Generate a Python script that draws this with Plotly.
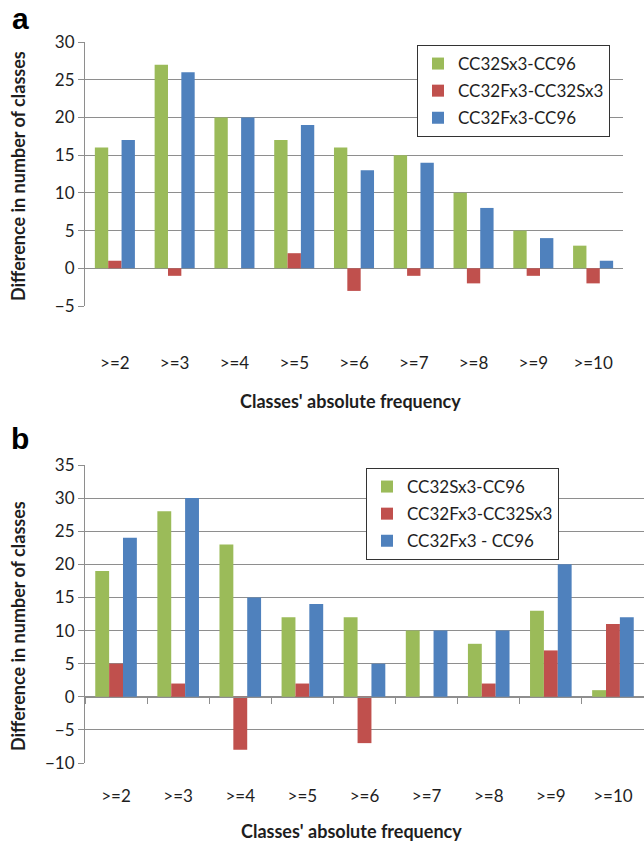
import plotly.graph_objects as go

categories = [">=2", ">=3", ">=4", ">=5", ">=6", ">=7", ">=8", ">=9", ">=10"]

# Panel a
a_names = ["CC32Sx3-CC96", "CC32Fx3-CC32Sx3", "CC32Fx3-CC96"]
a_s_96 = [16, 27, 20, 17, 16, 15, 10, 5, 3]
a_f_s = [1, -1, 0, 2, -3, -1, -2, -1, -2]
a_f_96 = [17, 26, 20, 19, 13, 14, 8, 4, 1]

# Panel b
b_names = ["CC32Sx3-CC96", "CC32Fx3-CC32Sx3", "CC32Fx3 - CC96"]
b_s_96 = [19, 28, 23, 12, 12, 10, 8, 13, 1]
b_f_s = [5, 2, -8, 2, -7, 0, 2, 7, 11]
b_f_96 = [24, 30, 15, 14, 5, 10, 10, 20, 12]

a_ticks = [-5, 0, 5, 10, 15, 20, 25, 30]
b_ticks = [-10, -5, 0, 5, 10, 15, 20, 25, 30, 35]

colors = ["#9BBB59", "#C0504D", "#4F81BD"]
FONT = "Lato"
GRID = "#8e8e8e"
TXT = "#1e1e1e"

W, H = 644, 844
ML = 85
PW = W - ML


def px(xp):
    return (xp - ML) / PW


def py(yp):
    return 1 - yp / H


fig = go.Figure()

for name, vals, c in zip(a_names, [a_s_96, a_f_s, a_f_96], colors):
    fig.add_trace(go.Bar(x=categories, y=vals, name=name, marker_color=c,
                         marker_line_width=0, xaxis="x", yaxis="y",
                         legend="legend", legendgroup="a" + name))
for name, vals, c in zip(b_names, [b_s_96, b_f_s, b_f_96], colors):
    fig.add_trace(go.Bar(x=categories, y=vals, name=name, marker_color=c,
                         marker_line_width=0, xaxis="x2", yaxis="y2",
                         legend="legend2", legendgroup="b" + name))
# helper trace so the zero-level tick axis of panel b knows the categories
fig.add_trace(go.Scatter(x=categories, y=[None] * len(categories), xaxis="x3",
                         yaxis="y2", mode="lines", showlegend=False,
                         hoverinfo="skip"))

ya_dom = [py(306), py(42)]
yb_dom = [py(763), py(465)]
b_lo, b_hi = -10, 35
zero_pos = yb_dom[0] + (0 - b_lo) / (b_hi - b_lo) * (yb_dom[1] - yb_dom[0])

tickfont = dict(family=FONT, size=17, color=TXT)

fig.update_layout(
    width=W, height=H,
    margin=dict(l=ML, r=0, t=0, b=0, autoexpand=False),
    paper_bgcolor="white", plot_bgcolor="white",
    barmode="group", bargap=0.33, bargroupgap=0,
    font=dict(family=FONT, color=TXT),
    xaxis=dict(domain=[0, px(623)], anchor="y", type="category",
               categoryarray=categories, showgrid=False, showline=False,
               zeroline=False, ticks="outside", ticklen=42, automargin=False,
               tickcolor="rgba(0,0,0,0)", tickfont=tickfont),
    yaxis=dict(domain=ya_dom, anchor="x", range=[-5, 30], tickvals=a_ticks,
               showgrid=True, gridcolor=GRID, gridwidth=1, zeroline=False,
               showline=True, linecolor=GRID, linewidth=1, ticks="outside",
               ticklen=6, tickcolor=GRID, tickfont=tickfont, automargin=False),
    xaxis2=dict(domain=[0, 1], anchor="y2", type="category",
                categoryarray=categories, showgrid=False, showline=False,
                zeroline=False, ticks="outside", ticklen=18, automargin=False,
                tickcolor="rgba(0,0,0,0)", tickfont=tickfont),
    xaxis3=dict(overlaying="x2", matches="x2", anchor="free",
                position=zero_pos, type="category", categoryarray=categories,
                showgrid=False, zeroline=False, showline=True, linecolor=GRID,
                linewidth=1, ticks="outside", ticklen=6, tickcolor=GRID,
                tickson="boundaries", showticklabels=False, automargin=False),
    yaxis2=dict(domain=yb_dom, anchor="x2", range=[b_lo, b_hi],
                tickvals=b_ticks, showgrid=True, gridcolor=GRID, gridwidth=1,
                zeroline=False, showline=True, linecolor=GRID, linewidth=1,
                ticks="outside", ticklen=6, tickcolor=GRID, tickfont=tickfont,
                automargin=False),
    legend=dict(x=px(417), y=py(45), xanchor="left", yanchor="top",
                bgcolor="white", bordercolor="#333333", borderwidth=1,
                font=dict(family=FONT, size=17, color=TXT),
                tracegroupgap=2, itemsizing="constant"),
    legend2=dict(x=px(366), y=py(468), xanchor="left", yanchor="top",
                 bgcolor="white", bordercolor="#333333", borderwidth=1,
                 font=dict(family=FONT, size=17, color=TXT),
                 tracegroupgap=2, itemsizing="constant"),
)


def note(text, x, y, size, family=FONT, angle=0, color=TXT):
    return dict(text=text, x=px(x), y=py(y), xref="paper", yref="paper",
                xanchor="center", yanchor="middle", showarrow=False,
                textangle=angle, font=dict(family=family, size=size, color=color))


ann = [
    note("<b>a</b>", 20, 18, 30, family="Liberation Sans", color="black"),
    note("<b>b</b>", 20, 438, 30, family="Liberation Sans", color="black"),
    note("<b>Classes' absolute frequency</b>", 350, 401, 18),
    note("<b>Classes' absolute frequency</b>", 351, 831, 18),
    note("<b>Difference in number of classes</b>", 18, 176, 18, angle=-90),
    note("<b>Difference in number of classes</b>", 18, 626, 18, angle=-90),
]
fig.update_layout(annotations=ann)

# remove the browser's default 8px page margin so the figure fills the window
fig.write_html("out.html",
               config={"displayModeBar": False},
               post_script="document.body.style.margin='0';"
                           "document.body.style.overflow='hidden';")
